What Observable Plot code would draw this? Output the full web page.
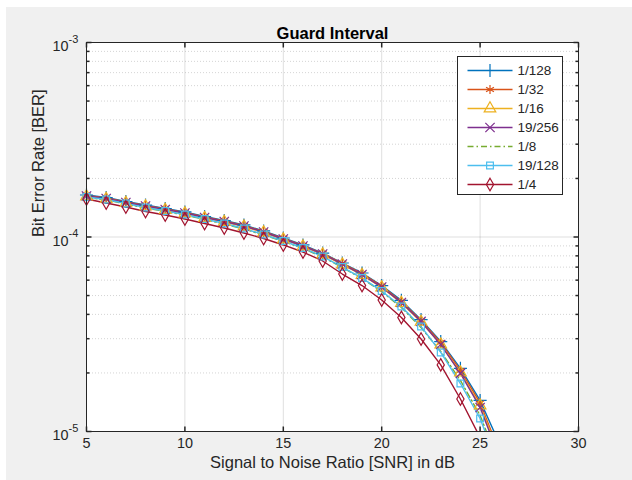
<!DOCTYPE html>
<html><head><meta charset="utf-8">
<script src="https://cdn.jsdelivr.net/npm/d3@7"></script>
<script src="https://cdn.jsdelivr.net/npm/@observablehq/plot@0.6"></script>
<style>
html,body{margin:0;padding:0;background:#fff;width:632px;height:480px;overflow:hidden;}
#fig{position:absolute;left:6px;top:7px;width:626px;height:473px;background:#f0f0f0;}
#chart{position:absolute;left:0;top:0;}
</style></head><body>
<div id="fig"></div><div id="chart"></div>
<script>
// ---- data ----
const snr = [5,6,7,8,9,10,11,12,13,14,15,16,17,18,19,20,21,22,23,24,25,26];
const ber_1_128  = [1.644e-4,1.596e-4,1.522e-4,1.461e-4,1.401e-4,1.345e-4,1.275e-4,1.216e-4,1.153e-4,1.074e-4,9.88e-5,9.10e-5,8.27e-5,7.35e-5,6.53e-5,5.63e-5,4.72e-5,3.76e-5,2.90e-5,2.11e-5,1.444e-5,8.58e-6];
const ber_1_32   = [1.635e-4,1.587e-4,1.513e-4,1.452e-4,1.393e-4,1.337e-4,1.267e-4,1.209e-4,1.146e-4,1.067e-4,9.82e-5,9.04e-5,8.23e-5,7.31e-5,6.49e-5,5.60e-5,4.66e-5,3.72e-5,2.87e-5,2.06e-5,1.402e-5,7.79e-6];
const ber_1_16   = [1.615e-4,1.568e-4,1.496e-4,1.435e-4,1.377e-4,1.321e-4,1.252e-4,1.195e-4,1.132e-4,1.055e-4,9.71e-5,8.94e-5,8.13e-5,7.22e-5,6.38e-5,5.50e-5,4.58e-5,3.66e-5,2.80e-5,2.01e-5,1.360e-5,7.53e-6];
const ber_19_256 = [1.625e-4,1.577e-4,1.504e-4,1.443e-4,1.385e-4,1.329e-4,1.260e-4,1.202e-4,1.139e-4,1.061e-4,9.77e-5,8.99e-5,8.18e-5,7.26e-5,6.41e-5,5.53e-5,4.60e-5,3.68e-5,2.80e-5,1.99e-5,1.329e-5,7.26e-6];
const ber_1_8    = [1.596e-4,1.550e-4,1.478e-4,1.410e-4,1.353e-4,1.298e-4,1.230e-4,1.166e-4,1.099e-4,1.024e-4,9.48e-5,8.73e-5,7.89e-5,6.97e-5,6.12e-5,5.24e-5,4.34e-5,3.42e-5,2.58e-5,1.83e-5,1.209e-5,6.69e-6];
const ber_19_128 = [1.606e-4,1.559e-4,1.487e-4,1.418e-4,1.361e-4,1.305e-4,1.238e-4,1.173e-4,1.106e-4,1.030e-4,9.54e-5,8.78e-5,7.94e-5,7.01e-5,6.15e-5,5.28e-5,4.39e-5,3.47e-5,2.55e-5,1.765e-5,1.166e-5,6.30e-6];
const ber_1_4    = [1.568e-4,1.496e-4,1.426e-4,1.353e-4,1.298e-4,1.238e-4,1.173e-4,1.113e-4,1.049e-4,9.82e-5,9.10e-5,8.37e-5,7.53e-5,6.45e-5,5.63e-5,4.74e-5,3.86e-5,2.99e-5,2.20e-5,1.469e-5,9.31e-6,5.60e-6];

const seriesNames = ["1/128","1/32","1/16","19/256","1/8","19/128","1/4"];
const seriesValues = [ber_1_128, ber_1_32, ber_1_16, ber_19_256, ber_1_8, ber_19_128, ber_1_4];
const seriesColors = ["#0072BD","#D95319","#EDB120","#7E2F8E","#77AC30","#4DBEEE","#A2142F"];
const seriesSymbols = ["plus","asterisk","triangle","times",null,"square2","diamond"];
const seriesDash = [null,null,null,null,"6,3,1.5,3",null,null];

const xTicks = [5,10,15,20,25,30];
const yMajor = [1e-5,1e-4,1e-3];
const yExp = ["-5","-4","-3"];
const yMinor = [2e-5,3e-5,4e-5,5e-5,6e-5,7e-5,8e-5,9e-5,2e-4,3e-4,4e-4,5e-4,6e-4,7e-4,8e-4,9e-4];

const titleText = "Guard Interval";
const xLabel = "Signal to Noise Ratio [SNR] in dB";
const yLabel = "Bit Error Rate [BER]";

// ---- build table ----
const rows = [];
seriesNames.forEach((name, s) => snr.forEach((x, i) => rows.push({series: name, s, snr: x, ber: seriesValues[s][i]})));

const AX = "#262626";
const FONT = "'Liberation Sans', Arial, Helvetica, sans-serif";
const tick = (dx, dy) => ({draw(ctx){ ctx.moveTo(0,0); ctx.lineTo(dx,dy); }});
const symMap = {plus: d3.symbolPlus, asterisk: d3.symbolAsterisk, triangle: d3.symbolTriangle, times: d3.symbolTimes, square2: d3.symbolSquare2, diamond: d3.symbolDiamond};
const symR = s => s === "diamond" ? 3.8 : 4.3;

const lineMarks = [];
const dotMarks = [];
seriesNames.forEach((name, s) => {
  const data = rows.filter(d => d.s === s);
  lineMarks.push(Plot.line(data, {x: "snr", y: "ber", stroke: seriesColors[s], strokeWidth: 1.4, strokeDasharray: seriesDash[s] || undefined, clip: true}));
  if (seriesSymbols[s]) {
    dotMarks.push(Plot.dot(data.filter(d => d.ber >= 1e-5 && d.snr <= 30), {x: "snr", y: "ber", symbol: seriesSymbols[s], r: symR(seriesSymbols[s]), stroke: seriesColors[s], strokeWidth: 1.2, fill: "none"}));
  }
});

const chart = Plot.plot({
  width: 632, height: 480,
  marginLeft: 86, marginRight: 54, marginTop: 42, marginBottom: 49,
  style: {background: "transparent", fontFamily: FONT, overflow: "visible"},
  x: {domain: [5, 30], axis: null},
  y: {type: "log", domain: [1e-5, 1e-3], axis: null},
  marks: [
    Plot.frame({fill: "white", stroke: null}),
    Plot.ruleY(yMinor, {stroke: AX, strokeOpacity: 0.2, strokeDasharray: "1,2"}),
    Plot.ruleY(yMajor, {stroke: AX, strokeOpacity: 0.15}),
    Plot.ruleX(xTicks, {stroke: AX, strokeOpacity: 0.15}),
    ...lineMarks,
    ...dotMarks,
    Plot.frame({stroke: AX, strokeWidth: 1}),
    // ticks (inward)
    Plot.dot(xTicks, {x: d => d, frameAnchor: "bottom", symbol: tick(0, -5), stroke: AX, fill: "none"}),
    Plot.dot(xTicks, {x: d => d, frameAnchor: "top", symbol: tick(0, 5), stroke: AX, fill: "none"}),
    Plot.dot(yMajor, {y: d => d, frameAnchor: "left", symbol: tick(5, 0), stroke: AX, fill: "none"}),
    Plot.dot(yMajor, {y: d => d, frameAnchor: "right", symbol: tick(-5, 0), stroke: AX, fill: "none"}),
    Plot.dot(yMinor, {y: d => d, frameAnchor: "left", symbol: tick(3, 0), stroke: AX, fill: "none"}),
    Plot.dot(yMinor, {y: d => d, frameAnchor: "right", symbol: tick(-3, 0), stroke: AX, fill: "none"}),
    // tick labels
    Plot.text(xTicks, {x: d => d, frameAnchor: "bottom", dy: 16, text: d => String(d), fontSize: 14.4, fill: AX}),
    Plot.text(yMajor, {y: d => d, frameAnchor: "left", dx: -18, dy: 4, textAnchor: "end", text: () => "10", fontSize: 14.4, fill: AX}),
    Plot.text(yMajor, {y: d => d, frameAnchor: "left", dx: -18, dy: -3.5, textAnchor: "start", text: (d, i) => yExp[i], fontSize: 11, fill: AX}),
    // labels and title
    Plot.text([titleText], {frameAnchor: "top", dy: -15, text: d => d, fontSize: 16.5, fontWeight: "bold", fill: "#000"}),
    Plot.text([xLabel], {frameAnchor: "bottom", dy: 36, text: d => d, fontSize: 16.5, fill: AX}),
    Plot.text([yLabel], {frameAnchor: "left", dx: -48, rotate: -90, text: d => d, fontSize: 16.5, fill: AX})
  ]
});
document.getElementById("chart").appendChild(chart);

// ---- legend inside the axes ----
const svg = d3.select(chart);
const lg = svg.append("g").attr("transform", "translate(457.5,56.5)")
  .attr("font-family", FONT).attr("text-anchor", "start");
lg.append("rect").attr("width", 105).attr("height", 138).attr("fill", "white").attr("stroke", AX).attr("stroke-width", 1);
seriesNames.forEach((name, s) => {
  const y = 14 + 19 * s;
  lg.append("line").attr("x1", 10).attr("x2", 55).attr("y1", y).attr("y2", y)
    .attr("stroke", seriesColors[s]).attr("stroke-width", 1.4)
    .attr("stroke-dasharray", seriesDash[s]);
  if (seriesSymbols[s]) {
    const r = symR(seriesSymbols[s]);
    lg.append("path").attr("transform", `translate(32.5,${y})`)
      .attr("d", d3.symbol(symMap[seriesSymbols[s]], Math.PI * r * r)())
      .attr("fill", "none").attr("stroke", seriesColors[s]).attr("stroke-width", 1.2);
  }
  lg.append("text").attr("x", 60).attr("y", y).attr("dy", "0.35em")
    .attr("text-anchor", "start").attr("font-size", 13.5).attr("fill", AX).text(name);
});
</script>
</body></html>
